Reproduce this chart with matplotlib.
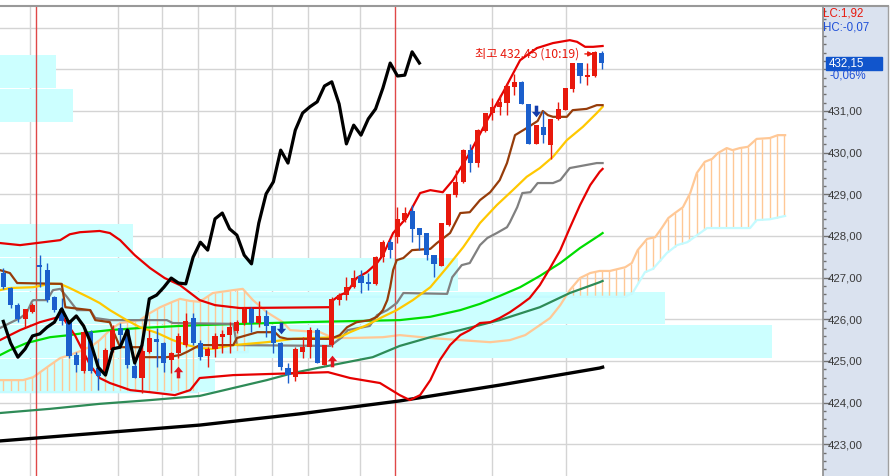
import numpy as np
import matplotlib
matplotlib.use("Agg")
import matplotlib.pyplot as plt
from matplotlib.path import Path
from matplotlib.patches import Rectangle
from matplotlib import transforms

# ---------------- data ----------------
opens = [427.11, 426.75, 426.34, 426.01, 426.17, 427.30, 427.18, 426.54, 426.25, 425.98,
         425.14, 424.76, 425.69, 424.83, 424.73, 425.26, 425.79, 425.74, 424.88, 424.59,
         425.22, 425.53, 425.43, 425.02, 425.19, 425.38, 426.03, 425.43, 425.12, 425.29,
         425.57, 425.62, 425.72, 425.91, 426.25, 425.91, 426.08, 425.84, 425.43, 424.83,
         424.61, 425.22, 425.33, 425.74, 424.90, 425.38, 426.46, 426.58, 426.77, 427.04,
         426.89, 426.85, 427.49, 427.85, 427.97, 428.38, 428.60, 428.19, 428.07, 427.54,
         427.28, 428.26, 428.98, 429.30, 430.06, 429.75, 430.52, 430.95, 431.10, 431.19,
         431.58, 431.70, 431.17, 430.21, 430.62, 430.18, 430.81, 431.02, 431.53, 432.15,
         431.82, 431.84, 432.39]
highs = [427.23, 426.77, 426.39, 426.25, 426.39, 427.54, 427.35, 426.56, 426.51, 425.98,
         425.22, 425.74, 425.74, 425.07, 425.31, 425.86, 425.91, 425.79, 424.97, 425.38,
         425.74, 425.79, 425.45, 425.22, 425.67, 426.15, 426.15, 425.50, 425.33, 425.67,
         425.74, 425.93, 425.98, 426.29, 426.29, 426.44, 426.22, 425.84, 425.45, 424.95,
         425.33, 425.57, 425.81, 425.79, 425.38, 426.54, 426.63, 427.01, 427.18, 427.18,
         427.11, 427.52, 427.90, 427.93, 428.69, 428.69, 428.74, 428.19, 428.07, 427.54,
         428.31, 429.01, 429.58, 430.08, 430.21, 430.57, 430.95, 431.31, 431.38, 431.67,
         431.89, 431.72, 431.17, 430.66, 431.00, 430.81, 431.22, 431.55, 432.15, 432.15,
         432.15, 432.45, 432.44]
lows = [426.73, 426.27, 425.93, 425.81, 426.15, 426.77, 426.42, 426.17, 425.86, 425.07,
        424.73, 424.71, 424.71, 424.30, 424.66, 425.22, 425.38, 424.83, 424.59, 424.23,
        425.19, 424.85, 424.73, 424.71, 425.07, 425.33, 425.38, 425.02, 424.85, 425.09,
        425.19, 425.19, 425.67, 425.86, 425.69, 425.81, 425.57, 425.19, 424.78, 424.47,
        424.52, 425.07, 425.07, 424.95, 424.90, 425.33, 426.34, 426.46, 426.75, 426.63,
        426.70, 426.82, 427.37, 427.47, 427.83, 428.34, 427.85, 427.66, 427.42, 427.01,
        427.28, 428.24, 428.93, 429.27, 429.54, 429.66, 430.50, 430.78, 430.90, 430.90,
        431.38, 431.17, 430.21, 430.21, 430.23, 429.85, 430.78, 431.02, 431.46, 431.67,
        431.62, 431.82, 432.01]
closes = [426.77, 426.34, 426.01, 426.25, 426.34, 427.26, 426.46, 426.22, 425.96, 425.12,
          424.90, 425.69, 424.76, 424.64, 425.26, 425.74, 425.62, 424.90, 424.59, 425.24,
          425.55, 425.45, 424.95, 425.19, 425.60, 425.95, 425.43, 425.09, 425.29, 425.60,
          425.65, 425.81, 425.93, 426.25, 425.91, 426.08, 425.84, 425.43, 424.85, 424.66,
          425.29, 425.33, 425.74, 424.95, 425.38, 426.49, 426.58, 426.77, 426.99, 426.87,
          426.85, 427.49, 427.85, 427.66, 428.41, 428.55, 428.17, 428.02, 427.54, 427.33,
          428.31, 429.01, 429.30, 430.06, 429.75, 430.54, 430.95, 431.10, 431.22, 431.60,
          431.70, 431.17, 430.21, 430.66, 430.42, 430.81, 431.05, 431.55, 432.15, 431.84,
          431.86, 432.42, 432.15]

# indicator lines: vertices (bar index, price)
bb_upper_x = [-0.45, 2.3, 7.8, 9.1, 10.5, 13.2, 14.6, 16.0, 18.0, 20.1, 22.1, 24.2, 26.9, 29.0, 32.4,
              44.8, 45.2, 46.1, 47.1, 48.4, 49.8, 51.2, 52.0, 53.4, 55.3, 57.1, 58.5, 60.2, 61.6,
              63.9, 66.3, 68.5, 70.8, 73.1, 75.3, 77.6, 78.6, 79.7, 80.8, 82.1]
bb_upper_y = [427.83, 427.78, 427.90, 428.04, 428.09, 428.12, 428.07, 427.90, 427.54, 427.23, 426.99,
              426.82, 426.46, 426.34, 426.27, 426.29, 426.46, 426.58, 426.65, 426.99, 427.13, 427.35,
              427.54, 428.07, 428.45, 429.03, 429.10, 429.05, 429.34, 429.99, 430.78, 431.46, 432.22,
              432.51, 432.63, 432.70, 432.66, 432.54, 432.54, 432.56]
bb_lower_x = [-0.45, 2.3, 5.0, 7.1, 8.0, 9.8, 11.9, 13.2, 14.6, 17.4, 20.1, 23.5, 25.6, 26.9, 31.5,
              44.5, 47.5, 51.6, 54.3, 55.7, 57.1, 58.5, 59.8, 61.2, 62.6, 63.9, 65.3, 66.7, 68.0,
              69.4, 70.8, 72.1, 73.5, 74.9, 76.3, 77.6, 79.0, 80.4, 81.7, 82.1]
bb_lower_y = [425.50, 425.74, 425.93, 426.03, 426.08, 425.62, 424.90, 424.59, 424.47, 424.30, 424.25,
              424.18, 424.30, 424.59, 424.66, 424.73, 424.59, 424.47, 424.18, 424.06, 424.18, 424.54,
              425.02, 425.38, 425.62, 425.74, 425.91, 425.93, 426.03, 426.17, 426.34, 426.51, 426.82,
              427.23, 427.66, 428.19, 428.74, 429.22, 429.54, 429.61]
tenkan_x = [-0.45, 0.9, 1.9, 8.0, 8.5, 11.9, 12.6, 14.6, 15.0, 16.0, 18.7, 19.1, 22.4, 24.2, 25.2,
            26.9, 31.5, 32.0, 34.8, 37.2, 37.9, 38.9, 44.8, 46.1, 47.1, 48.4, 50.2, 51.2, 52.0,
            52.6, 53.0, 53.4, 53.9, 54.8, 56.0, 58.5, 59.4, 61.2, 62.6, 63.9, 65.3, 66.7, 68.0,
            69.0, 70.1, 71.7, 73.2, 73.9, 74.6, 75.3, 77.2, 78.0, 79.9, 81.3, 82.1]
tenkan_y = [427.18, 427.11, 426.87, 426.85, 426.29, 426.22, 425.98, 425.93, 425.74, 425.33, 425.33,
            425.09, 425.09, 425.14, 425.22, 425.38, 425.38, 425.55, 425.69, 425.69, 425.57, 425.53,
            425.53, 425.62, 425.81, 425.93, 425.98, 426.06, 426.22, 426.46, 426.77, 427.18, 427.42,
            427.47, 427.66, 427.69, 427.83, 428.07, 428.55, 428.57, 428.86, 429.05, 429.34, 429.75,
            430.42, 430.59, 430.76, 431.00, 430.90, 430.86, 430.86, 431.02, 431.05, 431.14, 431.14]
kijun_x = [-0.45, 0.9, 2.3, 3.2, 3.9, 4.1, 6.0, 6.8, 7.8, 8.7, 10.1, 11.9, 12.6, 14.6, 22.4, 23.2,
           31.5, 32.0, 44.8, 46.4, 47.2, 50.2, 51.2, 52.6, 53.9, 54.8, 60.8, 61.5, 62.8, 63.9,
           65.3, 66.3, 67.6, 69.0, 69.4, 70.4, 71.1, 72.2, 73.2, 75.3, 76.3, 77.6, 81.3, 82.1]
kijun_y = [425.79, 425.91, 426.03, 426.15, 426.42, 426.46, 426.46, 426.70, 426.73, 426.54, 426.22,
           426.22, 426.03, 425.98, 425.98, 425.91, 425.89, 425.38, 425.36, 425.57, 425.74, 425.84,
           426.10, 426.22, 426.39, 426.63, 426.61, 427.01, 427.30, 427.35, 427.78, 427.95, 428.07,
           428.21, 428.33, 428.69, 429.03, 429.05, 429.27, 429.27, 429.34, 429.63, 429.75, 429.75]
ma_yellow_x = [-0.45, 0.9, 4.1, 6.4, 7.8, 9.1, 10.5, 11.9, 13.2, 14.6, 16.9, 18.7, 21.1, 23.2, 25.2,
               26.9, 28.7, 31.5, 36.1, 39.7, 42.4, 46.1, 47.5, 49.8, 52.0, 53.9, 56.1, 58.5, 60.8,
               63.0, 65.3, 67.6, 69.8, 71.7, 73.5, 75.3, 77.2, 79.4, 81.3, 82.1]
ma_yellow_y = [426.70, 426.75, 426.77, 426.85, 426.85, 426.75, 426.63, 426.51, 426.39, 426.22, 425.98,
               425.81, 425.67, 425.50, 425.38, 425.31, 425.29, 425.38, 425.45, 425.53, 425.55, 425.57,
               425.69, 425.86, 426.06, 426.22, 426.46, 426.77, 427.25, 427.73, 428.31, 428.74, 429.10,
               429.42, 429.63, 429.90, 430.30, 430.62, 430.95, 431.10]
ma_green_x = [-0.45, 0.9, 3.2, 6.4, 9.1, 11.9, 14.6, 18.7, 24.2, 26.9, 40.6, 54.3, 58.5, 62.6, 65.3,
              68.0, 70.8, 73.5, 76.3, 79.0, 81.7, 82.1]
ma_green_y = [425.14, 425.26, 425.43, 425.57, 425.62, 425.69, 425.74, 425.79, 425.84, 425.86, 425.93,
              425.98, 426.06, 426.22, 426.37, 426.56, 426.77, 427.04, 427.35, 427.71, 428.02, 428.07]
ma_seagreen_x = [-0.45, 6.4, 13.2, 20.1, 26.9, 31.5, 36.1, 39.7, 43.0, 46.5, 50.6, 54.3, 58.5, 62.6,
                 68.0, 73.5, 77.6, 81.7, 82.1]
ma_seagreen_y = [423.75, 423.85, 423.97, 424.06, 424.16, 424.35, 424.54, 424.71, 424.83, 424.95, 425.09,
                 425.36, 425.57, 425.74, 425.98, 426.29, 426.63, 426.89, 426.92]
ma_black_x = [-0.45, 13.2, 26.9, 40.6, 54.3, 68.0, 81.7, 82.1]
ma_black_y = [423.08, 423.27, 423.46, 423.73, 424.04, 424.42, 424.83, 424.85]

span_a_x = [-0.45, 2.7, 4.1, 6.4, 7.8, 9.1, 10.9, 12.3, 13.2, 14.6, 16.0, 18.7, 20.1, 21.5, 23.2, 24.2,
            25.6, 26.9, 28.7, 31.5, 32.8, 34.2, 36.1, 38.3, 39.3, 43.4, 45.2, 47.5, 52.0, 54.3, 58.5,
            62.6, 66.7, 69.4, 71.5, 73.5, 74.9, 76.3, 77.6, 79.0, 80.4, 81.7, 83.1, 85.2, 86.1, 86.9,
            88.2, 89.3, 90.2, 91.1, 92.0, 93.1, 94.1, 95.0, 96.1, 97.1, 97.9, 99.1, 99.9, 100.9,
            102.0, 103.2, 105.0, 106.1, 107.1]
span_a_y = [424.54, 424.54, 424.61, 424.90, 425.07, 425.14, 425.26, 425.38, 425.50, 425.74, 425.91,
            425.98, 426.15, 426.29, 426.42, 426.49, 426.44, 426.42, 426.63, 426.70, 426.73, 426.46,
            426.17, 425.93, 425.74, 425.69, 425.55, 425.55, 425.57, 425.62, 425.55, 425.50, 425.45,
            425.50, 425.62, 425.86, 426.03, 426.34, 426.70, 426.99, 427.11, 427.16, 427.16, 427.25,
            427.35, 427.66, 427.93, 427.97, 428.19, 428.43, 428.55, 428.69, 429.03, 429.51, 429.78,
            429.85, 429.99, 430.11, 430.06, 430.11, 430.14, 430.33, 430.35, 430.42, 430.42]
span_b_x = [-0.45, 26.5, 27.0, 33.5, 34.0, 85.2, 86.2, 87.9, 89.0, 90.9, 92.3, 93.7, 96.4, 102.3,
            103.2, 105.0, 107.1]
span_b_y = [424.25, 424.25, 425.21, 425.21, 426.54, 426.54, 426.63, 427.13, 427.21, 427.59, 427.78,
            427.85, 428.19, 428.19, 428.38, 428.40, 428.48]
chikou_shift = 25

# price-by-volume boxes (bin centre price, length in bars)
profile_price = [431.94, 431.13, 427.89, 427.08, 426.27, 425.46, 424.65]
profile_len = [7.7, 10.0, 18.2, 62.7, 91.1, 105.8, 29.5]
profile_bin = 0.785

up_signals = [24, 45]
down_signals = [38, 73]
day_marks = [4.48, 53.6]
time_grid = [3.6, 15.7, 21.7, 26.7, 31.7, 36.8, 41.7, 48.9, 66.9, 77.1]
price_ticks = [423, 424, 425, 426, 427, 428, 429, 430, 431]
grid_prices = list(range(423, 434))
high_value, high_time = 432.45, "10:19"
lc_text, hc_text, chg_text = "LC:1,92", "HC:-0,07", "-0,06%"

# ---------------- style ----------------
RED = "#e8180c"
BLUE = "#1b5fcc"
BOX = "#ccffff"
PEACH = "#ffc896"

W, H, DPI = 890, 476, 100
fig = plt.figure(figsize=(W / DPI, H / DPI), dpi=DPI, facecolor="white")
axw = 823 / W
axh = 470 / H
ax = fig.add_axes([0, 0, axw, axh])
px = fig.add_axes([axw, 0, 1 - axw - 2 / W, axh])

y_lo, y_hi = 422.238, 433.52
x_lo, x_hi = -0.452, 112.29
ax.set_xlim(x_lo, x_hi)
ax.set_ylim(y_lo, y_hi)
ax.set_xticks([])
ax.set_yticks([])
for s in ["left", "right", "bottom"]:
    ax.spines[s].set_visible(False)
ax.spines["top"].set_color("#999999")
ax.spines["top"].set_linewidth(1.5)

# grid
for g in grid_prices:
    ax.axhline(g, color="#d4d4d4", lw=1.0, zorder=0.5)
for g in time_grid:
    ax.axvline(g, color="#d4d4d4", lw=1.0, zorder=0.5)

# volume profile boxes
ax.barh(profile_price, profile_len, height=profile_bin, left=x_lo, color=BOX,
        linewidth=0, zorder=1)

# ichimoku cloud
idx = np.arange(0, 108)
a = np.interp(idx, span_a_x, span_a_y)
b = np.interp(idx, span_b_x, span_b_y)
m = a > b
ax.vlines(idx[m], b[m], a[m], color=PEACH, lw=1.0, zorder=1.5)
ax.plot(span_b_x, span_b_y, color="#c4fbff", lw=1.6, zorder=1.6)
ax.plot(span_a_x, span_a_y, color=PEACH, lw=1.6, zorder=1.7)

for d in day_marks:
    ax.axvline(d, color="#e04848", lw=1.0, zorder=1.8)

# lines
ax.plot(ma_black_x, ma_black_y, color="black", lw=2.4, zorder=2)
ax.plot(ma_seagreen_x, ma_seagreen_y, color="#2e8b57", lw=1.6, zorder=2)
ax.plot(ma_green_x, ma_green_y, color="#00dd00", lw=1.6, zorder=2)
ax.plot(kijun_x, kijun_y, color="#808080", lw=1.6, zorder=2.1)
ax.plot(ma_yellow_x, ma_yellow_y, color="#ffc800", lw=1.6, zorder=2.1)
ax.plot(tenkan_x, tenkan_y, color="#963c0a", lw=1.6, zorder=2.2)
ax.plot(bb_lower_x, bb_lower_y, color="#e60000", lw=1.6, zorder=2.3)
ax.plot(bb_upper_x, bb_upper_y, color="#e60000", lw=1.6, zorder=2.3)

# candles
o = np.array(opens); h = np.array(highs); l = np.array(lows); c = np.array(closes)
n = len(c)
xi = np.arange(n)
cols = np.where(c >= o, RED, BLUE)
ax.vlines(xi, l, h, colors=cols, lw=1.0, zorder=4)
body_lo = np.minimum(o, c)
body_h = np.maximum(np.abs(c - o), 0.035)
ax.bar(xi, body_h, bottom=body_lo, width=0.7, color=cols, linewidth=0, zorder=4.1)

# chikou span
ax.plot(xi[:n - chikou_shift], c[chikou_shift:], color="black", lw=2.3, zorder=5)

# signal arrows
up_path = Path([(0, 1), (0.8, 0.05), (0.3, 0.05), (0.3, -1), (-0.3, -1), (-0.3, 0.05),
                (-0.8, 0.05), (0, 1)])
down_path = Path([(0, -1), (0.8, -0.05), (0.3, -0.05), (0.3, 1), (-0.3, 1), (-0.3, -0.05),
                  (-0.8, -0.05), (0, -1)])
tr_dn = transforms.offset_copy(ax.transData, fig=fig, x=0, y=-10, units="points")
tr_up = transforms.offset_copy(ax.transData, fig=fig, x=0, y=10, units="points")
ax.scatter(up_signals, l[up_signals], marker=up_path, s=70, color="#e0141e",
           transform=tr_dn, zorder=6, linewidths=0)
ax.scatter(down_signals, h[down_signals], marker=down_path, s=70, color="#143caa",
           transform=tr_up, zorder=6, linewidths=0)

# high annotation
hi_i = int(np.argmax(h[:n - 1]))
ax.annotate(f"최고 {high_value:.2f}".replace(".", ",") + f" ({high_time})",
            xy=(hi_i, high_value - 0.08), xytext=(-11, 0), textcoords="offset points",
            ha="right", va="center", color="#e8180c", fontsize=8.8,
            family=["Noto Sans CJK KR", "DejaVu Sans"],
            arrowprops=dict(arrowstyle="-|>", color="#e8180c", lw=1.0, shrinkA=2, shrinkB=1,
                            mutation_scale=7), zorder=7)

# ---------------- right price panel ----------------
px.set_facecolor("#dae2ef")
px.set_xlim(0, 1)
px.set_ylim(y_lo, y_hi)
px.set_xticks([])
px.spines["bottom"].set_visible(False)
px.spines["right"].set_color("#a0a0a0")
px.spines["right"].set_linewidth(1.0)
px.spines["top"].set_color("#999999")
px.spines["top"].set_linewidth(1.5)
px.spines["left"].set_color("#8c8c8c")
px.spines["left"].set_linewidth(1.2)
px.set_yticks(price_ticks)
px.set_yticklabels([f"{v:.2f}".replace(".", ",") for v in price_ticks],
                   family="Liberation Sans", fontsize=8.2, color="#3a3a3a")
px.set_yticks(np.arange(422.4, 433.5, 0.2), minor=True)
px.tick_params(axis="y", which="major", direction="in", length=5, width=1, color="#707070",
               pad=-3.5, right=False)
px.tick_params(axis="y", which="minor", direction="in", length=2.5, width=1, color="#707070",
               right=False)
for t in px.get_yticklabels():
    t.set_horizontalalignment("left")

px.text(0.005, 0.983, lc_text, transform=px.transAxes, color="#e8180c", fontsize=8.3,
        family="Liberation Sans", va="center", ha="left")
px.text(0.005, 0.955, hc_text, transform=px.transAxes, color="#1f50d8", fontsize=8.3,
        family="Liberation Sans", va="center", ha="left")
bt = transforms.blended_transform_factory(px.transAxes, px.transData)
last = closes[-1]
px.add_patch(Rectangle((0.045, last - 0.155), 0.87, 0.31, transform=bt, color="#1155cc",
                       zorder=3, clip_on=False))
px.text(0.09, last, f"{last:.2f}".replace(".", ","), transform=bt, color="white",
        fontsize=8.3, family="Liberation Sans", va="center", ha="left", zorder=4)
bt2 = transforms.offset_copy(bt, fig=fig, x=0, y=-8.8, units="points")
px.text(0.105, last, chg_text, transform=bt2, color="#1f50d8", fontsize=8.3,
        family="Liberation Sans", va="center", ha="left", zorder=4)

fig.savefig("out.png", dpi=DPI, facecolor="white")
